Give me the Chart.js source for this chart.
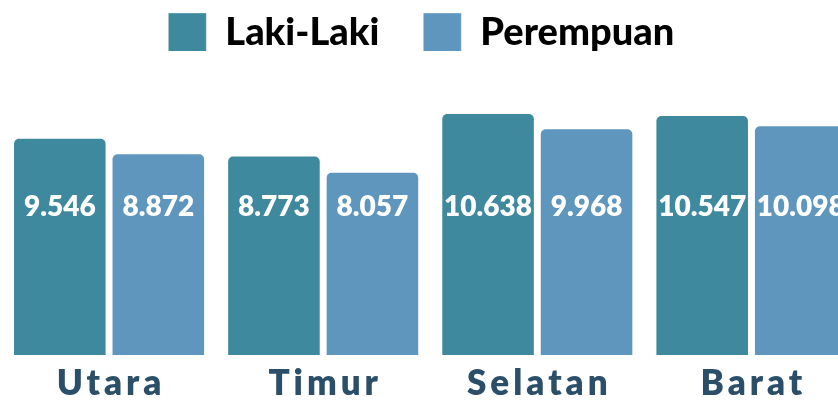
<!DOCTYPE html>
<html><head><meta charset="utf-8">
<script src="https://cdn.jsdelivr.net/npm/chart.js@4"></script>
<style>
html,body{margin:0;padding:0;background:#fff;overflow:hidden}
#wrap{width:838px;height:402px;overflow:hidden;position:relative}
canvas{position:absolute;left:0;top:0}
</style></head>
<body><div id="wrap"><canvas id="c" width="861" height="402"></canvas></div>
<script>
const categories = ['Utara', 'Timur', 'Selatan', 'Barat'];
const seriesNames = ['Laki-Laki', 'Perempuan'];
const lakiLaki = [9546, 8773, 10638, 10547];
const perempuan = [8872, 8057, 9968, 10098];
const seriesColors = ['#3E899E', '#5F96BD'];

const Y_MAX = 12000;
const LABEL_LEVEL = 6500;
const LEGEND_H = 82;
const LEGEND_SHIFT = 31;
const LEGEND_SHIFT_X = 9;

const fmt = v => v.toLocaleString('id-ID');

const valueLabels = {
  id: 'valueLabels',
  afterDatasetsDraw(chart) {
    const ctx = chart.ctx;
    const y = chart.scales.y.getPixelForValue(LABEL_LEVEL);
    ctx.save();
    ctx.font = '800 28px Lato';
    ctx.fillStyle = '#ffffff';
    ctx.textAlign = 'center';
    ctx.textBaseline = 'middle';
    chart.data.datasets.forEach((ds, i) => {
      chart.getDatasetMeta(i).data.forEach((bar, j) => {
        ctx.fillText(fmt(ds.data[j]), bar.x, y);
      });
    });
    ctx.restore();
  }
};

const tickSpacing = {
  id: 'tickSpacing',
  beforeDraw(chart) {
    const s = chart.scales.x;
    if (!s._spaced) {
      const orig = s.drawLabels;
      s.drawLabels = function (a) {
        const c = this.ctx;
        c.save();
        c.letterSpacing = '4px';
        c.translate(2, 0);
        orig.call(this, a);
        c.restore();
      };
      s._spaced = true;
    }
  }
};

const legendFit = {
  id: 'legendFit',
  beforeUpdate(chart) {
    const lg = chart.legend;
    if (lg && !lg._fitPatched) {
      const f = lg.fit;
      lg.fit = function () { f.call(this); this.height = LEGEND_H; };
      lg._fitPatched = true;
    }
  },
  afterLayout(chart) {
    const lg = chart.legend;
    lg.top -= LEGEND_SHIFT;
    lg.bottom -= LEGEND_SHIFT;
    lg.left -= LEGEND_SHIFT_X;
    lg.right -= LEGEND_SHIFT_X;
  }
};

new Chart(document.getElementById('c'), {
  type: 'bar',
  data: {
    labels: categories,
    datasets: [
      { label: seriesNames[0], data: lakiLaki, backgroundColor: seriesColors[0],
        borderColor: 'rgba(255,255,255,0.35)', borderWidth: 1, borderRadius: 6, borderSkipped: 'bottom' },
      { label: seriesNames[1], data: perempuan, backgroundColor: seriesColors[1],
        borderColor: 'rgba(255,255,255,0.35)', borderWidth: 1, borderRadius: 6, borderSkipped: 'bottom' }
    ]
  },
  options: {
    responsive: false,
    animation: false,
    devicePixelRatio: 1,
    layout: { padding: { left: 2, right: 2.5, top: 0, bottom: 0 } },
    datasets: { bar: { categoryPercentage: 0.92, barPercentage: 0.95 } },
    plugins: {
      legend: {
        position: 'top',
        labels: {
          boxWidth: 38, boxHeight: 40, padding: 44, color: '#000000',
          font: { family: 'Lato', size: 38, weight: 900 }
        }
      },
      tooltip: { enabled: false }
    },
    scales: {
      x: {
        grid: { display: false, drawTicks: false },
        border: { display: false },
        ticks: { color: '#2C4F69', font: { family: 'Lato', size: 35, weight: 800 }, padding: 8 },
        afterFit: (scale) => { scale.height = 47; }
      },
      y: { display: false, min: 0, max: Y_MAX }
    }
  },
  plugins: [valueLabels, tickSpacing, legendFit]
});
</script>
</body></html>
